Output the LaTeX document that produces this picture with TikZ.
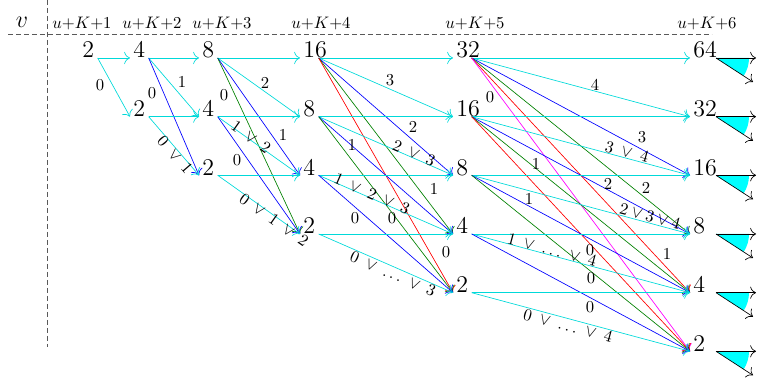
\documentclass[tikz,border=0pt]{standalone}
\usetikzlibrary{arrows.meta}
\definecolor{aqua}{rgb}{0,0.85,0.85}
\definecolor{aquafill}{rgb}{0,1,1}
\definecolor{pink}{rgb}{1,0,1}
\definecolor{dgreen}{rgb}{0,0.5,0}
\begin{document}
\begin{tikzpicture}[x=0.6pt,y=0.6pt,>={To[scale=1.4]},
        num/.style={anchor=base west,inner xsep=1.8pt,inner ysep=0pt,text width=7.2pt,align=left,font=\Large},
        lab/.style={inner sep=0pt},
        head/.style={anchor=base,inner sep=0pt},
        d1/.style={->,aqua},
        d2/.style={->,blue},
        d3/.style={->,dgreen},
        d4/.style={->,red},
        d5/.style={->,pink},
        grid/.style={dash pattern=on 3pt off 1.8pt,black!65,line width=0.5pt},
        stub/.style={->,black}]
        \useasboundingbox (0,0) rectangle (757,-378);
        \draw [grid] (8,-34) -- (712,-34);
        \draw [grid] (47,0) -- (47,-347);
        \node [head,font=\Large] (hv) at (22,-28) {$v$};
        \node [head] (h1) at (82,-29) {$u{+}K{+}1$};
        \node [head] (h2) at (152,-29) {$u{+}K{+}2$};
        \node [head] (h3) at (222,-29) {$u{+}K{+}3$};
        \node [head] (h4) at (321,-29) {$u{+}K{+}4$};
        \node [head] (h5) at (475,-29) {$u{+}K{+}5$};
        \node [head] (h6) at (707,-29) {$u{+}K{+}6$};
        \node [num] (n10) at (79,-58) {2};
        \node [num] (n20) at (130,-58) {4};
        \node [num] (n21) at (130,-116.7) {2};
        \node [num] (n30) at (199,-58) {8};
        \node [num] (n31) at (199,-116.7) {4};
        \node [num] (n32) at (199,-175.3) {2};
        \node [num] (n40) at (300,-58) {16};
        \node [num] (n41) at (300,-116.7) {8};
        \node [num] (n42) at (300,-175.3) {4};
        \node [num] (n43) at (300,-234) {2};
        \node [num] (n50) at (453,-58) {32};
        \node [num] (n51) at (453,-116.7) {16};
        \node [num] (n52) at (453,-175.3) {8};
        \node [num] (n53) at (453,-234) {4};
        \node [num] (n54) at (453,-292.7) {2};
        \node [num] (n60) at (690,-58) {64};
        \node [num] (n61) at (690,-116.7) {32};
        \node [num] (n62) at (690,-175.3) {16};
        \node [num] (n63) at (690,-234) {8};
        \node [num] (n64) at (690,-292.7) {4};
        \node [num] (n65) at (690,-351.3) {2};
        \draw [d1] (n10.base east) -- (n20.base west);
        \draw [d1] (n10.base east) -- (n21.base west);
        \draw [d1] (n20.base east) -- (n30.base west);
        \draw [d1] (n20.base east) -- (n31.base west);
        \draw [d2] (n20.base east) -- (n32.base west);
        \draw [d1] (n21.base east) -- (n31.base west);
        \draw [d1] (n21.base east) -- (n32.base west);
        \draw [d1] (n30.base east) -- (n40.base west);
        \draw [d1] (n30.base east) -- (n41.base west);
        \draw [d2] (n30.base east) -- (n42.base west);
        \draw [d3] (n30.base east) -- (n43.base west);
        \draw [d1] (n31.base east) -- (n41.base west);
        \draw [d1] (n31.base east) -- (n42.base west);
        \draw [d2] (n31.base east) -- (n43.base west);
        \draw [d1] (n32.base east) -- (n42.base west);
        \draw [d1] (n32.base east) -- (n43.base west);
        \draw [d1] (n40.base east) -- (n50.base west);
        \draw [d1] (n40.base east) -- (n51.base west);
        \draw [d2] (n40.base east) -- (n52.base west);
        \draw [d3] (n40.base east) -- (n53.base west);
        \draw [d4] (n40.base east) -- (n54.base west);
        \draw [d1] (n41.base east) -- (n51.base west);
        \draw [d1] (n41.base east) -- (n52.base west);
        \draw [d2] (n41.base east) -- (n53.base west);
        \draw [d3] (n41.base east) -- (n54.base west);
        \draw [d1] (n42.base east) -- (n52.base west);
        \draw [d1] (n42.base east) -- (n53.base west);
        \draw [d2] (n42.base east) -- (n54.base west);
        \draw [d1] (n43.base east) -- (n53.base west);
        \draw [d1] (n43.base east) -- (n54.base west);
        \draw [d1] (n50.base east) -- (n60.base west);
        \draw [d1] (n50.base east) -- (n61.base west);
        \draw [d2] (n50.base east) -- (n62.base west);
        \draw [d3] (n50.base east) -- (n63.base west);
        \draw [d4] (n50.base east) -- (n64.base west);
        \draw [d5] (n50.base east) -- (n65.base west);
        \draw [d1] (n51.base east) -- (n61.base west);
        \draw [d1] (n51.base east) -- (n62.base west);
        \draw [d2] (n51.base east) -- (n63.base west);
        \draw [d3] (n51.base east) -- (n64.base west);
        \draw [d4] (n51.base east) -- (n65.base west);
        \draw [d1] (n52.base east) -- (n62.base west);
        \draw [d1] (n52.base east) -- (n63.base west);
        \draw [d2] (n52.base east) -- (n64.base west);
        \draw [d3] (n52.base east) -- (n65.base west);
        \draw [d1] (n53.base east) -- (n63.base west);
        \draw [d1] (n53.base east) -- (n64.base west);
        \draw [d2] (n53.base east) -- (n65.base west);
        \draw [d1] (n54.base east) -- (n64.base west);
        \draw [d1] (n54.base east) -- (n65.base west);
        \node [lab] (l1) at (100,-85) {$0$};
        \node [lab] (l2) at (182,-82) {$1$};
        \node [lab] (l3) at (152,-93) {$0$};
        \node [lab,rotate=-49] (l4) at (175,-155) {$0\;\vee\;1$};
        \node [lab] (l5) at (265,-83) {$2$};
        \node [lab] (l6) at (283,-135) {$1$};
        \node [lab] (l7) at (224,-95) {$0$};
        \node [lab,rotate=-35.3] (l8) at (251,-137) {$1\;\vee\;2$};
        \node [lab] (l9) at (237,-160) {$0$};
        \node [lab,rotate=-35.3] (l10) at (274,-220) {$0\;\vee\;1\;\vee\;2$};
        \node [lab] (l11) at (390,-80) {$3$};
        \node [lab] (l12) at (413,-127) {$2$};
        \node [lab] (l13) at (434,-189) {$1$};
        \node [lab] (l14) at (446,-252) {$0$};
        \node [lab,rotate=-23.5] (l15) at (414,-153) {$2\;\vee\;3$};
        \node [lab] (l16) at (352,-145) {$1$};
        \node [lab] (l17) at (392,-218) {$0$};
        \node [lab,rotate=-23.5] (l18) at (372,-194) {$1\;\vee\;2\;\vee\;3$};
        \node [lab] (l19) at (355,-218) {$0$};
        \node [lab,rotate=-23.5] (l20) at (393,-274) {$0\;\vee\;\ldots\;\vee\;3$};
        \node [lab] (l21) at (595,-85) {$4$};
        \node [lab] (l22) at (642,-137) {$3$};
        \node [lab] (l23) at (646,-188) {$2$};
        \node [lab] (l24) at (667,-254) {$1$};
        \node [lab] (l25) at (490,-97) {$0$};
        \node [lab,rotate=-15] (l26) at (627,-152) {$3\;\vee\;4$};
        \node [lab] (l27) at (608,-184) {$2$};
        \node [lab] (l28) at (536,-164) {$1$};
        \node [lab] (l29) at (590,-250) {$0$};
        \node [lab,rotate=-15] (l30) at (650,-216) {$2\vee3\vee4$};
        \node [lab] (l31) at (529,-199) {$1$};
        \node [lab] (l32) at (591,-278) {$0$};
        \node [lab,rotate=-15] (l33) at (552,-250) {$1\;\vee\;\ldots\;\vee\;4$};
        \node [lab] (l34) at (590,-307) {$0$};
        \node [lab,rotate=-15] (l35) at (568,-326) {$0\;\vee\;\ldots\;\vee\;4$};
        \coordinate (s0) at (716,-58);
        \coordinate (s1) at (716,-116.7);
        \coordinate (s2) at (716,-175.3);
        \coordinate (s3) at (716,-234);
        \coordinate (s4) at (716,-292.7);
        \coordinate (s5) at (716,-351.3);
        \fill [aquafill] (s0) -- ++(33,0) arc [start angle=0,end angle=-33,radius=33] -- cycle;
        \fill [aquafill] (s1) -- ++(33,0) arc [start angle=0,end angle=-33,radius=33] -- cycle;
        \fill [aquafill] (s2) -- ++(33,0) arc [start angle=0,end angle=-33,radius=33] -- cycle;
        \fill [aquafill] (s3) -- ++(33,0) arc [start angle=0,end angle=-33,radius=33] -- cycle;
        \fill [aquafill] (s4) -- ++(33,0) arc [start angle=0,end angle=-33,radius=33] -- cycle;
        \fill [aquafill] (s5) -- ++(33,0) arc [start angle=0,end angle=-33,radius=33] -- cycle;
        \draw [stub] (s0) -- ++(40,0);
        \draw [stub] (s0) -- ++(37,-24);
        \draw [stub] (s1) -- ++(40,0);
        \draw [stub] (s1) -- ++(37,-24);
        \draw [stub] (s2) -- ++(40,0);
        \draw [stub] (s2) -- ++(37,-24);
        \draw [stub] (s3) -- ++(40,0);
        \draw [stub] (s3) -- ++(37,-24);
        \draw [stub] (s4) -- ++(40,0);
        \draw [stub] (s4) -- ++(37,-24);
        \draw [stub] (s5) -- ++(40,0);
        \draw [stub] (s5) -- ++(37,-24);
\end{tikzpicture}
\end{document}
